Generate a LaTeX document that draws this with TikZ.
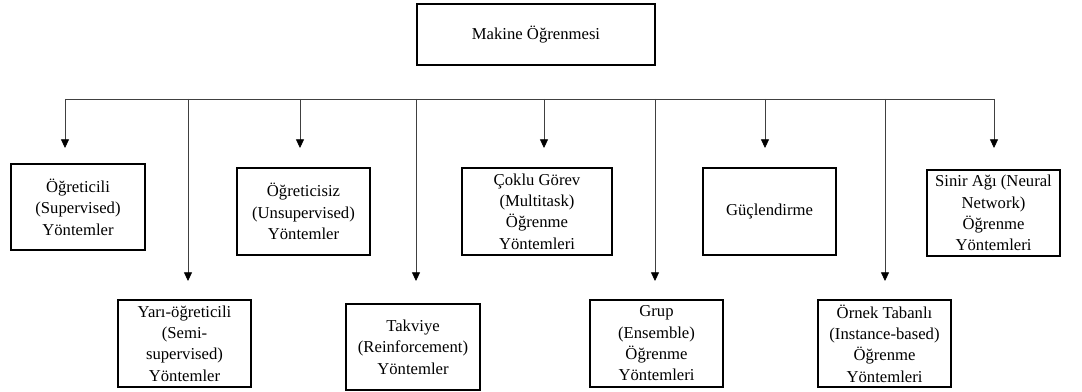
\documentclass[tikz,border=0pt]{standalone}
\usepackage{fontspec}
\setmainfont{Liberation Serif}
\usetikzlibrary{arrows.meta, positioning}
\tikzset{
    block/.style={rectangle, draw, line width=1.5pt, align=center, minimum width=100pt, minimum height=65pt, inner sep=2pt, font=\fontsize{12.5pt}{16pt}\selectfont},
    arrow/.style={draw=black!75, line width=0.6pt, -{Triangle[width=6pt, length=6.5pt, color=black]}},
    bus/.style={draw=black!75, line width=0.6pt}
}

\begin{document}
\begin{tikzpicture}[x=0.75pt, y=-0.75pt]
            \useasboundingbox (0,0) rectangle (1082,392);
            \node[block, minimum width=178pt, minimum height=46pt] (ml) at (536,34.5) {Makine Öğrenmesi};

            \node[block] (supervised) at (78,207) {Öğreticili\\(Supervised)\\Yöntemler};
            \node[block] (unsupervised) at (303.5,211.5) {Öğreticisiz\\(Unsupervised)\\Yöntemler};
            \node[block, minimum width=113pt] (multitask) at (537,211.5) {Çoklu Görev\\(Multitask)\\Öğrenme\\Yöntemleri};
            \node[block] (boosting) at (769.5,211.5) {Güçlendirme};
            \node[block] (neural) at (993.5,213) {Sinir Ağı (Neural\\Network)\\Öğrenme\\Yöntemleri};

            \node[block] (semi) at (184.5,343.5) {Yarı-öğreticili\\(Semi-\\supervised)\\Yöntemler};
            \node[block] (reinforce) at (413,347) {Takviye\\(Reinforcement)\\Yöntemler};
            \node[block] (ensemble) at (656.5,343.5) {Grup\\(Ensemble)\\Öğrenme\\Yöntemleri};
            \node[block] (instance) at (884.5,343.5) {Örnek Tabanlı\\(Instance-based)\\Öğrenme\\Yöntemleri};

            \coordinate (busL) at (65,99);
            \coordinate (busR) at (994,99);
            \coordinate (supervised_in) at (65,148);
            \coordinate (semi_in) at (188,281);
            \coordinate (unsupervised_in) at (300,148);
            \coordinate (reinforce_in) at (416,281);
            \coordinate (multitask_in) at (544,148);
            \coordinate (ensemble_in) at (655,281);
            \coordinate (boosting_in) at (765,148);
            \coordinate (instance_in) at (885,281);
            \coordinate (neural_in) at (994,148);

            \draw[bus] (busL) -- (busR);
            \draw[arrow] (supervised_in |- busL) -- (supervised_in);
            \draw[arrow] (semi_in |- busL) -- (semi_in);
            \draw[arrow] (unsupervised_in |- busL) -- (unsupervised_in);
            \draw[arrow] (reinforce_in |- busL) -- (reinforce_in);
            \draw[arrow] (multitask_in |- busL) -- (multitask_in);
            \draw[arrow] (ensemble_in |- busL) -- (ensemble_in);
            \draw[arrow] (boosting_in |- busL) -- (boosting_in);
            \draw[arrow] (instance_in |- busL) -- (instance_in);
            \draw[arrow] (neural_in |- busL) -- (neural_in);
        \end{tikzpicture}
\end{document}
